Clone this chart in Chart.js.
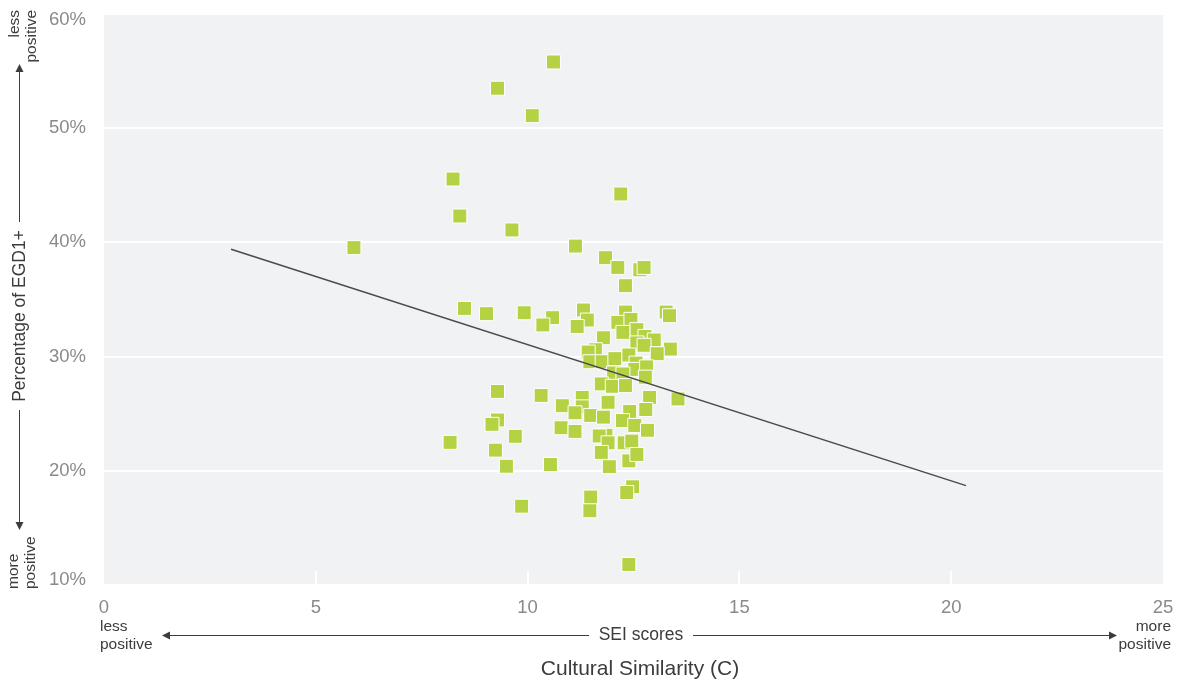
<!DOCTYPE html>
<html>
<head>
<meta charset="utf-8">
<style>
  html, body { margin: 0; padding: 0; background: #fff; }
  #wrap { width: 1178px; height: 685px; }
</style>
<script src="https://cdn.jsdelivr.net/npm/chart.js@4.4.0/dist/chart.umd.min.js"></script>
</head>
<body>
<div id="wrap"><canvas id="chart" width="1178" height="685"></canvas></div>
<script>
"use strict";

// SEI scores (x) and percentage of EGD1+ (y)
const seiScores = [
  10.61, 9.29, 10.11, 8.24, 12.20, 8.40, 9.63, 5.90, 11.13, 11.84,
  12.13, 12.65, 12.75, 12.31, 8.51, 9.03, 9.92, 10.59, 10.36, 11.32,
  11.41, 11.17, 12.31, 12.13, 12.44, 12.58, 12.25, 13.27, 13.35, 11.79,
  12.77, 12.99, 12.58, 12.75, 13.37, 13.06, 11.60, 11.43, 11.47, 11.76,
  12.06, 12.39, 12.56, 12.53, 12.81, 12.78, 12.03, 12.25, 11.74, 12.00,
  12.31, 11.29, 11.90, 12.88, 13.55, 10.82, 11.29, 11.12, 11.49, 11.79,
  12.41, 12.79, 12.24, 12.53, 12.83, 10.79, 11.12, 11.85, 11.69, 11.90,
  12.28, 12.46, 11.74, 12.39, 12.58, 11.93, 12.48, 12.34, 11.49, 11.47,
  12.39, 9.29, 10.32, 9.29, 9.16, 9.71, 8.17, 9.24, 9.50, 10.54,
  9.86
];
const egdPercent = [
  55.8, 53.5, 51.1, 45.55, 44.24, 42.31, 41.09, 39.54, 39.68, 38.66,
  37.81, 37.6, 37.81, 36.21, 34.22, 33.76, 33.84, 33.41, 32.77, 34.08,
  33.2, 32.64, 33.9, 33.0, 33.26, 32.36, 32.12, 33.9, 33.58, 31.65,
  31.77, 31.46, 31.2, 30.99, 30.66, 30.25, 30.6, 30.4, 29.55, 29.55,
  29.82, 30.14, 29.43, 28.88, 29.1, 28.2, 28.57, 28.48, 27.61, 27.4,
  27.46, 26.43, 26.0, 26.43, 26.29, 25.7, 25.6, 25.08, 24.85, 24.70,
  25.2, 25.37, 24.4, 23.97, 23.55, 23.77, 23.45, 23.11, 23.05, 22.45,
  22.45, 22.6, 21.61, 20.87, 21.43, 20.36, 18.6, 18.1, 17.7, 16.5,
  11.8, 26.95, 26.6, 24.45, 24.07, 23.02, 22.49, 21.81, 20.4, 20.55,
  16.9
];

// trend line end points
const trendX = [3.0, 20.35];
const trendY = [39.4, 18.7];

const xTicks = [0, 5, 10, 15, 20, 25];
const yTicks = [10, 20, 30, 40, 50, 60];

const FONT = "'Liberation Sans', Arial, Helvetica, sans-serif";
const TICK_COLOR = "#8a8a8a";
const TEXT_COLOR = "#3c3c3c";

const plotBackground = {
  id: "plotBackground",
  beforeDraw(chart) {
    const { ctx, chartArea: a } = chart;
    ctx.save();
    ctx.fillStyle = "#f1f2f4";
    ctx.fillRect(a.left, a.top, a.right - a.left, a.bottom - a.top);
    ctx.restore();
  },
  beforeDatasetsDraw(chart) {
    // short white tick marks along the bottom of the plot
    const { ctx, chartArea: a, scales } = chart;
    ctx.save();
    ctx.strokeStyle = "#ffffff";
    ctx.lineWidth = 2;
    xTicks.slice(1, -1).forEach((t) => {
      const px = Math.round(scales.x.getPixelForValue(t));
      ctx.beginPath();
      ctx.moveTo(px, a.bottom - 14);
      ctx.lineTo(px, a.bottom);
      ctx.stroke();
    });
    ctx.restore();
  }
};

function arrowHead(ctx, x, y, dir) {
  const L = 8, W = 4;
  ctx.beginPath();
  if (dir === "up") { ctx.moveTo(x, y); ctx.lineTo(x - W, y + L); ctx.lineTo(x + W, y + L); }
  if (dir === "down") { ctx.moveTo(x, y); ctx.lineTo(x - W, y - L); ctx.lineTo(x + W, y - L); }
  if (dir === "left") { ctx.moveTo(x, y); ctx.lineTo(x + L, y - W); ctx.lineTo(x + L, y + W); }
  if (dir === "right") { ctx.moveTo(x, y); ctx.lineTo(x - L, y - W); ctx.lineTo(x - L, y + W); }
  ctx.closePath();
  ctx.fill();
}

const axisNotes = {
  id: "axisNotes",
  afterDraw(chart) {
    const { ctx, chartArea: a, scales } = chart;
    ctx.save();

    // y tick labels, the end ones nudged inside the plot height
    ctx.fillStyle = TICK_COLOR;
    ctx.font = "18.5px " + FONT;
    ctx.textAlign = "right";
    ctx.textBaseline = "middle";
    yTicks.forEach((t) => {
      let py = scales.y.getPixelForValue(t);
      py = Math.min(Math.max(py, a.top + 6), a.bottom - 5);
      ctx.fillText(t + "%", 86, py);
    });

    ctx.fillStyle = TEXT_COLOR;
    ctx.strokeStyle = TEXT_COLOR;
    ctx.lineWidth = 1;

    // left side: rotated labels and arrows
    ctx.save();
    ctx.rotate(-Math.PI / 2);
    ctx.textBaseline = "middle";
    ctx.font = "15.5px " + FONT;
    ctx.textAlign = "right";
    ctx.fillText("less", -10, 15);
    ctx.fillText("positive", -10, 32);
    ctx.textAlign = "left";
    ctx.fillText("more", -589, 14);
    ctx.fillText("positive", -589, 31);
    ctx.font = "17.5px " + FONT;
    ctx.textAlign = "center";
    ctx.fillText("Percentage of EGD1+", -316, 20);
    ctx.restore();

    ctx.beginPath();
    ctx.moveTo(19.5, 222);
    ctx.lineTo(19.5, 70);
    ctx.moveTo(19.5, 410);
    ctx.lineTo(19.5, 524);
    ctx.stroke();
    arrowHead(ctx, 19.5, 64, "up");
    arrowHead(ctx, 19.5, 530, "down");

    // bottom: SEI scores arrow and labels
    ctx.font = "15.5px " + FONT;
    ctx.textBaseline = "middle";
    ctx.textAlign = "left";
    ctx.fillText("less", 100, 627);
    ctx.fillText("positive", 100, 645);
    ctx.textAlign = "right";
    ctx.fillText("more", 1171, 627);
    ctx.fillText("positive", 1171, 645);

    ctx.font = "17.5px " + FONT;
    ctx.textAlign = "center";
    ctx.fillText("SEI scores", 641, 635);

    ctx.beginPath();
    ctx.moveTo(168, 635.5);
    ctx.lineTo(589, 635.5);
    ctx.moveTo(693, 635.5);
    ctx.lineTo(1111, 635.5);
    ctx.stroke();
    arrowHead(ctx, 162, 635.5, "left");
    arrowHead(ctx, 1117, 635.5, "right");

    ctx.font = "21px " + FONT;
    ctx.fillText("Cultural Similarity (C)", 640, 669);
    ctx.restore();
  }
};

const points = seiScores.map((x, i) => ({ x, y: egdPercent[i] }));
const trend = trendX.map((x, i) => ({ x, y: trendY[i] }));

new Chart(document.getElementById("chart"), {
  type: "scatter",
  data: {
    datasets: [
      {
        type: "line",
        data: trend,
        borderColor: "#4a4a4a",
        borderWidth: 1.5,
        pointRadius: 0,
        fill: false,
        order: 0
      },
      {
        data: points,
        pointStyle: "rect",
        pointRadius: 9.9,
        backgroundColor: "#b4d244",
        borderColor: "#ffffff",
        borderWidth: 1,
        order: 1
      }
    ]
  },
  options: {
    responsive: false,
    animation: false,
    layout: { padding: { top: 14, right: 15, left: 0, bottom: 0 } },
    plugins: {
      legend: { display: false },
      tooltip: { enabled: false }
    },
    scales: {
      x: {
        type: "linear",
        min: 0,
        max: 25,
        afterFit: (s) => {
          s.height = 100;
          s.paddingLeft = 0;
          s.paddingRight = 0;
        },
        afterBuildTicks: (s) => { s.ticks = xTicks.map((v) => ({ value: v })); },
        grid: { display: false, drawTicks: false },
        border: { display: false },
        ticks: {
          color: TICK_COLOR,
          font: { family: FONT, size: 18.5 },
          padding: 12,
          maxRotation: 0
        }
      },
      y: {
        type: "linear",
        min: 10,
        max: 60,
        afterFit: (s) => {
          s.width = 104;
          s.paddingTop = 0;
          s.paddingBottom = 0;
        },
        afterBuildTicks: (s) => { s.ticks = yTicks.map((v) => ({ value: v })); },
        grid: { color: "#ffffff", lineWidth: 2, drawTicks: false },
        border: { display: false },
        ticks: { display: false }
      }
    }
  },
  plugins: [plotBackground, axisNotes]
});
</script>
</body>
</html>
